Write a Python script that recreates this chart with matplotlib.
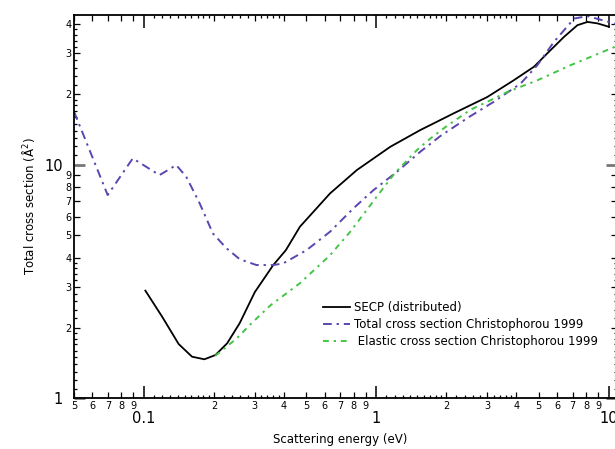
import matplotlib
matplotlib.use("Agg")
import matplotlib.pyplot as plt
from matplotlib.ticker import FixedLocator, FuncFormatter
import numpy as np

# SECP (distributed)
secp_e = [0.1014, 0.1196, 0.141, 0.161, 0.182, 0.203, 0.228, 0.258, 0.30,
          0.36, 0.408, 0.469, 0.632, 0.824, 1.148, 1.545, 1.884, 2.15, 3.0,
          3.9, 4.77, 5.44, 6.42, 7.33, 8.1, 8.95, 10.0]
secp_cs = [2.89, 2.24, 1.708, 1.507, 1.469, 1.532, 1.72, 2.095, 2.85,
           3.72, 4.31, 5.43, 7.54, 9.49, 11.94, 14.08, 15.54, 16.6, 19.5,
           23.0, 26.3, 30.0, 35.3, 39.6, 40.9, 40.3, 39.0]

# Total cross section, Christophorou 1999
total_e = [0.05, 0.0698, 0.0895, 0.1166, 0.1377, 0.152, 0.1736, 0.198,
           0.2264, 0.2583, 0.305, 0.36, 0.397, 0.501, 0.632, 0.797, 0.972,
           1.226, 1.545, 1.884, 2.5, 3.2, 4.18, 4.93, 5.81, 7.1, 8.1, 10.0,
           10.8]
total_cs = [16.9, 7.42, 10.65, 9.03, 9.97, 8.89, 6.84, 5.08, 4.39, 3.94,
            3.72, 3.72, 3.78, 4.31, 5.17, 6.51, 7.79, 9.33, 11.37, 13.27,
            16.0, 18.6, 22.3, 26.7, 33.6, 42.3, 43.3, 40.9, 40.0]

# Elastic cross section, Christophorou 1999
elastic_e = [0.2026, 0.25, 0.2853, 0.35, 0.469, 0.632, 0.77, 0.943, 1.0,
             1.2, 1.5, 1.71, 2.0, 2.54, 3.0, 3.66, 4.93, 6.86, 10.0, 10.8]
elastic_cs = [1.52, 1.8, 2.06, 2.5, 3.11, 4.1, 5.15, 6.72, 7.27, 9.2, 11.6,
              12.97, 14.6, 17.2, 18.6, 20.5, 23.0, 26.7, 31.2, 32.2]

legend_labels = ["SECP (distributed)",
                 "Total cross section Christophorou 1999",
                 " Elastic cross section Christophorou 1999"]


def sub_ticks(lo, hi):
    """Decade ticks, integer minors, and the finer ticks between them."""
    major, minor, fine = [], [], []
    for p in range(int(np.floor(np.log10(lo))) - 1, int(np.ceil(np.log10(hi))) + 1):
        d = 10.0 ** p
        major.append(d)
        for k in range(2, 10):
            minor.append(k * d)
        for f in np.arange(1.1, 2.0, 0.1):
            fine.append(f * d)
        for f in [2.2, 2.4, 2.6, 2.8, 3.2, 3.4, 3.6, 3.8]:
            fine.append(f * d)
    return major, minor + fine


def digit_label(v, pos):
    lead = v / 10.0 ** np.floor(np.log10(v) + 1e-9)
    if abs(lead - round(lead)) < 1e-6:
        return str(int(round(lead)))
    return ""


def decade_label(v, pos):
    if v < 1:
        return f"{v:g}"
    return str(int(round(v)))


def main():
    fig = plt.figure(figsize=(6.15, 4.49), dpi=100)
    ax = fig.add_axes([74 / 615, 50.7 / 449, 543 / 615, 383.8 / 449])
    ax.set_xscale("log")
    ax.set_yscale("log")

    ax.plot(secp_e, secp_cs, color="black", lw=1.3, label=legend_labels[0])
    ax.plot(total_e, total_cs, color="#5C45B0", lw=1.4,
            ls=(0, (4.5, 2.5, 1.2, 2.5)), label=legend_labels[1])
    ax.plot(elastic_e, elastic_cs, color="#44C444", lw=1.4,
            ls=(0, (3.0, 2.5, 1.2, 2.5)), label=legend_labels[2])

    ax.set_xlim(0.05, 10.85)
    ax.set_ylim(1, 44)

    for axis, lo, hi in [(ax.xaxis, 0.05, 10.85), (ax.yaxis, 1, 44)]:
        major, minor = sub_ticks(lo, hi)
        axis.set_major_locator(FixedLocator(major))
        axis.set_minor_locator(FixedLocator(minor))
        axis.set_major_formatter(FuncFormatter(decade_label))
        axis.set_minor_formatter(FuncFormatter(digit_label))

    ax.tick_params(which="both", direction="in", top=True, right=True,
                   labeltop=False, labelright=False, color="black")
    ax.tick_params(axis="x", which="major", length=9, width=1.1,
                   labelsize=10.5, pad=9)
    ax.tick_params(axis="y", which="major", length=8, width=2,
                   color="#777777", labelsize=10.5, pad=8)
    ax.tick_params(axis="x", which="minor", length=4, width=0.9,
                   labelsize=7, pad=2)
    ax.tick_params(axis="y", which="minor", length=4, width=0.9,
                   labelsize=7, pad=2)

    # shorter marks for the fine ticks that carry no label
    for axis in (ax.xaxis, ax.yaxis):
        locs = axis.get_minorticklocs()
        ticks = axis.get_minor_ticks(len(locs))
        for t, v in zip(ticks, locs):
            if digit_label(v, None) == "":
                t.tick1line.set_markersize(2.3)
                t.tick2line.set_markersize(2.3)

    for s in ax.spines.values():
        s.set_linewidth(1.3)
    ax.spines["right"].set_visible(False)

    ax.set_xlabel("Scattering energy (eV)", fontsize=8.5)
    ax.set_ylabel("Total cross section (Å$^2$)", fontsize=8.5)
    ax.xaxis.set_label_coords(0.49, -0.09)
    ax.yaxis.set_label_coords(-0.068, 0.5)

    ax.legend(loc="upper left", bbox_to_anchor=(0.4586, 0.2535),
              frameon=False, fontsize=8.5, handlelength=2.3,
              handletextpad=0.3, labelspacing=0.35, borderpad=0,
              borderaxespad=0)

    fig.savefig("out.png", dpi=100)


if __name__ == "__main__":
    main()
